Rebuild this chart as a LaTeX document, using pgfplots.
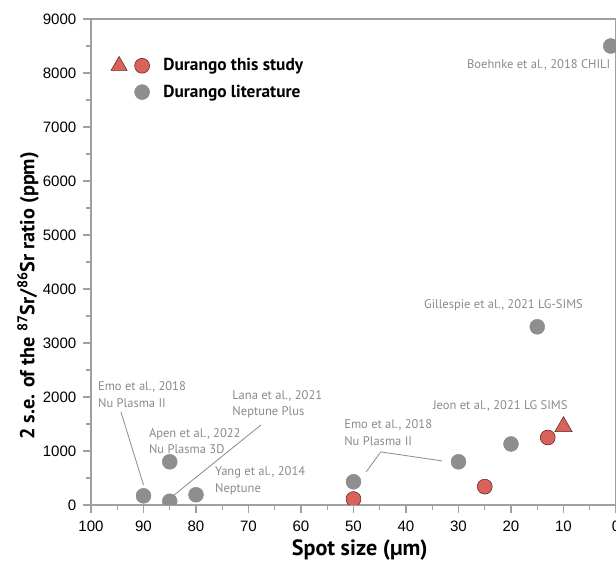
\documentclass[border=0pt]{standalone}
\usepackage{fontspec}
\usepackage{pgfplots}
\pgfplotsset{compat=1.18}
\setmainfont{Liberation Sans}
\newfontfamily\myr{PT Sans}
\definecolor{litgray}{HTML}{8E8E8E}
\definecolor{stred}{HTML}{D9635B}
\definecolor{stedge}{HTML}{5A2222}
\definecolor{anngray}{HTML}{8A8A8A}
\definecolor{axgray}{HTML}{A0A0A0}
\begin{document}
\begin{tikzpicture}
\begin{axis}[
    name=ax, at={(0,0)}, anchor=south west,
    scale only axis, width=393.75pt, height=364.5pt,
    x dir=reverse,
    xmin=0, xmax=100, ymin=0, ymax=9000,
    xtick distance=10, minor x tick num=1,
    ytick distance=1000, minor y tick num=1,
    tick align=outside, tick pos=left,
    major tick length=6pt, minor tick length=3.5pt,
    axis line style={axgray, line width=0.8pt},
    every tick/.style={axgray, line width=0.8pt},
    ticklabel style={font=\fontsize{11.3}{12}\selectfont, black},
    xticklabel style={yshift=-2.5pt},
    yticklabel style={xshift=-1.5pt},
    /pgf/number format/assume math mode=true,
    /pgf/number format/1000 sep={},
    xlabel={\myr\bfseries Spot size (µm)},
    xlabel style={at={(axis description cs:0.512,-0.093)}, anchor=center,
        font=\fontsize{16.6}{19}\selectfont},
    ylabel={\myr\bfseries 2 s.e. of the \textsuperscript{87}Sr/\textsuperscript{86}Sr ratio (ppm)},
    ylabel style={at={(axis description cs:-0.12,0.43)}, anchor=center,
        font=\fontsize{15.2}{18}\selectfont},
    clip marker paths=true,
    legend style={at={(axis description cs:0.03,0.93)}, anchor=north west,
        draw=none, fill=none, font=\myr\bfseries\fontsize{13}{15}\selectfont,
        row sep=5pt},
    legend cell align=left,
]
% legend entries
\addlegendimage{legend image code/.code={
    \draw[only marks, mark=triangle*, mark size=7pt,
        mark options={fill=stred, draw=stedge, line width=0.4pt}] plot coordinates {(0pt,0pt)};
    \draw[only marks, mark=*, mark size=5.6pt,
        mark options={fill=stred, draw=stedge, line width=0.4pt}] plot coordinates {(17.25pt,0pt)};
    \path (31pt,0pt);
}}
\addlegendentry{Durango this study}
\addlegendimage{legend image code/.code={
    \draw[only marks, mark=*, mark size=5.6pt, color=litgray,
        mark options={fill=litgray, draw=litgray}] plot coordinates {(17.25pt,0pt)};
    \path (31pt,0pt);
}}
\addlegendentry{Durango literature}

% literature values
\addplot[only marks, color=litgray, mark=*, mark size=5.6pt,
    mark options={fill=litgray, draw=litgray}, forget plot]
coordinates {
    (1,8500)
    (15,3300)
    (20,1130)
    (30,800)
    (50,430)
    (90,170)
    (85,800)
    (85,70)
    (80,190)
};
% this study
\addplot[only marks, color=stedge, mark=*, mark size=5.6pt,
    mark options={fill=stred, draw=stedge, line width=0.4pt}, forget plot]
coordinates {
    (50,110)
    (25,340)
    (13,1250)
};
\addplot[only marks, color=stedge, mark=triangle*, mark size=7.5pt,
    mark options={fill=stred, draw=stedge, line width=0.4pt}, forget plot]
coordinates {
    (10,1450)
};

% leader lines
\draw[anngray, line width=0.6pt] (axis cs:94.3,1725) -- (axis cs:90,371);
\draw[anngray, line width=0.6pt] (axis cs:67.6,1484) -- (axis cs:84.4,167);
\draw[anngray, line width=0.6pt] (axis cs:47.6,612) -- (axis cs:44.8,983) -- (axis cs:33.1,816);

% annotations
\begin{scope}[every node/.style={anngray, anchor=west, align=left, inner sep=0pt,
    font=\myr\fontsize{9.4}{12.4}\selectfont}]
\node at (axis cs:98.7,2049) {Emo et al., 2018\\Nu Plasma II};
\node at (axis cs:73.1,1863) {Lana et al., 2021\\Neptune Plus};
\node at (axis cs:89.0,1187) {Apen et al., 2022\\Nu Plasma 3D};
\node at (axis cs:76.4,445) {Yang et al., 2014\\Neptune};
\node at (axis cs:51.8,1344) {Emo et al., 2018\\Nu Plasma II};
\node at (axis cs:34.9,1836) {Jeon et al., 2021 LG SIMS};
\node at (axis cs:36.6,3690) {Gillespie et al., 2021 LG-SIMS};
\node at (axis cs:28.4,8140) {Boehnke et al., 2018 CHILI};
\end{scope}
\end{axis}
\pgfresetboundingbox
\path ([xshift=-68.25pt, yshift=-42.75pt]ax.south west) rectangle ([yshift=14.25pt]ax.north east);
\end{tikzpicture}
\end{document}
